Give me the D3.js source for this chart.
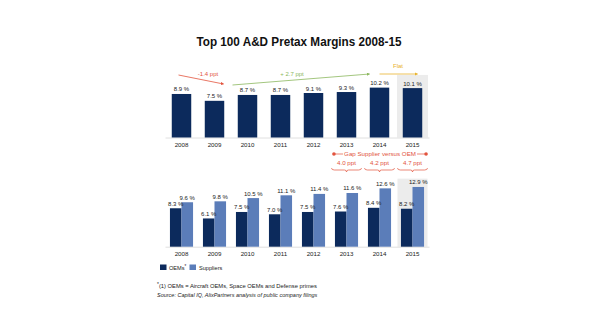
<!DOCTYPE html>
<html><head><meta charset="utf-8">
<script src="https://cdn.jsdelivr.net/npm/d3@7"></script>
<style>body{margin:0;background:#fff}svg{display:block}text{font-family:"Liberation Sans",Arial,Helvetica,sans-serif}</style>
</head><body>
<svg id="c" width="595" height="335"></svg>
<script>
const years = ["2008","2009","2010","2011","2012","2013","2014","2015"];
const totalMargin = [8.9, 7.5, 8.7, 8.7, 9.1, 9.3, 10.2, 10.1];
const oemMargin = [8.3, 6.1, 7.5, 7.0, 7.5, 7.6, 8.4, 8.2];
const supplierMargin = [9.6, 9.8, 10.5, 11.1, 11.4, 11.6, 12.6, 12.9];
const seriesNames = ["OEMs", "Suppliers"];
const trendLabels = ["-1.4 ppt", "+ 2.7 ppt", "Flat"];
const gapYears = ["2013","2014","2015"];
const gapValues = ["4.0 ppt","4.2 ppt","4.7 ppt"];

const navy = "#0c2a5c", light = "#5b7db9", grayBg = "#ececec";
const svg = d3.select("#c");

svg.append("text").attr("x", 299).attr("y", 46).attr("text-anchor","middle")
  .attr("font-weight","bold").attr("font-size", 12.6).attr("fill","#111")
  .attr("textLength", 205).attr("lengthAdjust", "spacingAndGlyphs")
  .text("Top 100 A&D Pretax Margins 2008-15");

const x = d3.scaleBand().domain(years).range([165, 429]).paddingInner(0.41).paddingOuter(0.205);
const xg = d3.scaleBand().domain(years).range([165, 429]).paddingInner(0.3).paddingOuter(0.15);
const xs = d3.scaleBand().domain(seriesNames).range([0, xg.bandwidth()]);
const yTop = d3.scaleLinear().domain([0, 12]).range([137.5, 137.5 - 12*4.89]);
const yBot = d3.scaleLinear().domain([0, 14]).range([246.7, 246.7 - 14*4.63]);
const cx = d => x(d) + x.bandwidth()/2;

// highlight backgrounds
svg.append("rect").attr("x", cx("2015") - 15.5).attr("width", 31)
  .attr("y", yTop(12.8)).attr("height", yTop(0) - yTop(12.8)).attr("fill", grayBg);
svg.append("rect").attr("x", cx("2015") - 15).attr("width", 30)
  .attr("y", yBot(14.7)).attr("height", yBot(0) - yBot(14.7)).attr("fill", grayBg);

// axes baselines
const axTop = d3.axisBottom(x).tickSize(0).tickPadding(5);
const gT = svg.append("g").attr("transform", `translate(0,${yTop(0)})`).call(axTop);
const axBot = d3.axisBottom(xg).tickSize(0).tickPadding(5);
const gB = svg.append("g").attr("transform", `translate(0,${yBot(0)})`).call(axBot);
[gT, gB].forEach(g => {
  g.select(".domain").attr("stroke", "#d8d8d8").attr("stroke-width", 0.8);
  g.selectAll("text").attr("font-size", 6.2).attr("fill", "#222").attr("font-family","Liberation Sans, Arial, sans-serif");
});

// top bars
svg.append("g").selectAll("rect").data(totalMargin).join("rect")
  .attr("x", (d,i) => x(years[i])).attr("width", x.bandwidth())
  .attr("y", d => yTop(d)).attr("height", d => yTop(0) - yTop(d)).attr("fill", navy);
svg.append("g").selectAll("text").data(totalMargin).join("text")
  .attr("x", (d,i) => cx(years[i])).attr("y", d => yTop(d) - 2.5)
  .attr("text-anchor","middle").attr("font-size", 6).attr("fill","#222")
  .text(d => d.toFixed(1) + " %");

// bottom bars
const bottomData = [];
years.forEach((yr, i) => {
  bottomData.push({yr, s: "OEMs", v: oemMargin[i], c: navy});
  bottomData.push({yr, s: "Suppliers", v: supplierMargin[i], c: light});
});
svg.append("g").selectAll("rect").data(bottomData).join("rect")
  .attr("x", d => xg(d.yr) + xs(d.s)).attr("width", xs.bandwidth())
  .attr("y", d => yBot(d.v)).attr("height", d => yBot(0) - yBot(d.v)).attr("fill", d => d.c);
svg.append("g").selectAll("text").data(bottomData).join("text")
  .attr("x", d => xg(d.yr) + xs(d.s) + xs.bandwidth()/2).attr("y", d => yBot(d.v) - 2.5)
  .attr("text-anchor","middle").attr("font-size", 6).attr("fill","#222")
  .text(d => d.v.toFixed(1) + " %");

// trend arrows
const trendColors = ["#e2543e", "#8cb85e", "#e8b22e"];
const defs = svg.append("defs");
trendColors.forEach((c, i) => {
  defs.append("marker").attr("id","m"+i).attr("viewBox","0 0 6 6").attr("refX",5).attr("refY",3)
    .attr("markerWidth",4).attr("markerHeight",4).attr("orient","auto")
    .append("path").attr("d","M0,0 L6,3 L0,6 Z").attr("fill", c);
});
const trendGeom = [
  {x1: cx("2008") - 3, y1: 75, x2: cx("2009") + 9, y2: 84, tx: 208, ty: 76},
  {x1: cx("2010") - 15, y1: 85, x2: cx("2014") - 10, y2: 74, tx: 292, ty: 76},
  {x1: cx("2014"), y1: 74, x2: cx("2015") + 5, y2: 74, tx: 398, ty: 68}
];
trendGeom.forEach((g, i) => {
  svg.append("line").attr("x1", g.x1).attr("y1", g.y1).attr("x2", g.x2).attr("y2", g.y2)
    .attr("stroke", trendColors[i]).attr("stroke-width", 0.8).attr("marker-end", `url(#m${i})`);
  svg.append("text").attr("x", g.tx).attr("y", g.ty).attr("text-anchor","middle")
    .attr("font-size", 6).attr("fill", trendColors[i]).text(trendLabels[i]);
});

// gap annotation
const red = "#e2543e";
const gx1 = xg(gapYears[0]) - 1, gx2 = xg("2015") + xg.bandwidth() + 2;
svg.append("line").attr("x1", gx1).attr("x2", gx2).attr("y1", 154).attr("y2", 154)
  .attr("stroke", red).attr("stroke-width", 0.7);
[gx1, gx2].forEach(px => svg.append("circle").attr("cx", px).attr("cy", 154).attr("r", 1.8).attr("fill", red));
const gapLabelW = 74;
svg.append("rect").attr("x", (gx1+gx2)/2 - gapLabelW/2).attr("y", 150).attr("width", gapLabelW).attr("height", 8).attr("fill","#fff");
svg.append("text").attr("x", (gx1+gx2)/2).attr("y", 156).attr("text-anchor","middle")
  .attr("font-size", 6.2).attr("fill", red).text("Gap Supplier versus OEM");
gapYears.forEach((yr, i) => {
  const c = xg(yr) + xg.bandwidth()/2;
  svg.append("text").attr("x", c).attr("y", 165).attr("text-anchor","middle")
    .attr("font-size", 6.2).attr("fill", red).text(gapValues[i]);
  const a = c - 15, b = c + 15, yb = 168;
  svg.append("path")
    .attr("d", `M${a},${yb} Q${a},${yb+2} ${a+3},${yb+2} L${c-2},${yb+2} Q${c},${yb+2} ${c},${yb+4} Q${c},${yb+2} ${c+2},${yb+2} L${b-3},${yb+2} Q${b},${yb+2} ${b},${yb}`)
    .attr("fill","none").attr("stroke", red).attr("stroke-width", 0.7);
});

// legend
const lg = svg.append("g");
lg.append("rect").attr("x", 160).attr("y", 264.5).attr("width", 6.5).attr("height", 5.5).attr("fill", navy);
const t1 = lg.append("text").attr("x", 169).attr("y", 269.5).attr("font-size", 5.6).attr("fill","#222");
t1.append("tspan").text(seriesNames[0]);
t1.append("tspan").attr("dy", -2).attr("font-size", 4.5).text("*");
lg.append("rect").attr("x", 189.5).attr("y", 264.5).attr("width", 6.5).attr("height", 5.5).attr("fill", light);
lg.append("text").attr("x", 199).attr("y", 269.5).attr("font-size", 5.6).attr("fill","#222").text(seriesNames[1]);

// footnotes
const f1 = svg.append("text").attr("x", 157).attr("y", 287.5).attr("font-size", 5.8).attr("fill","#222");
f1.append("tspan").attr("font-size", 4.8).attr("dy", -2).text("*");
f1.append("tspan").attr("dy", 2).text("(1) OEMs = Aircraft OEMs, Space OEMs and Defense primes");
svg.append("text").attr("x", 157).attr("y", 297).attr("font-size", 5.5).attr("font-style","italic").attr("fill","#222")
  .text("Source: Capital IQ, AlixPartners analysis of public company filings");
</script>
</body></html>
